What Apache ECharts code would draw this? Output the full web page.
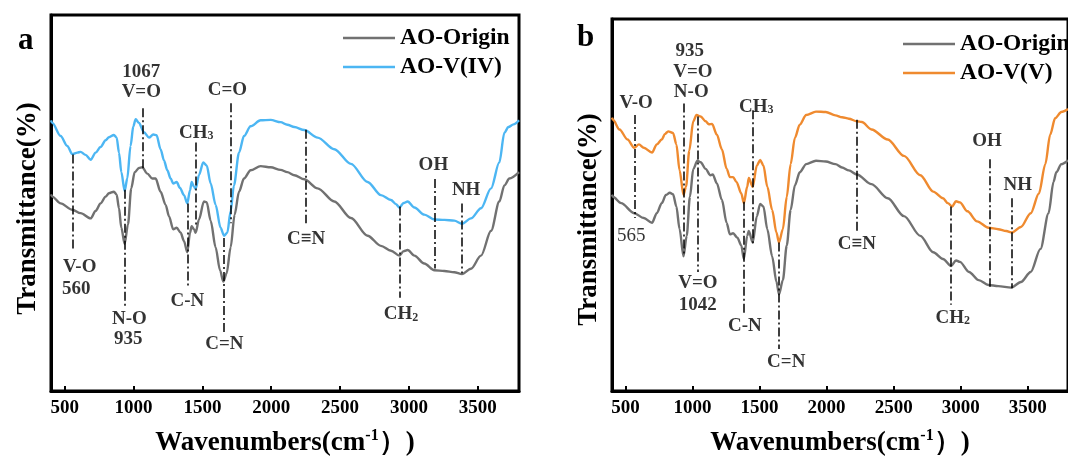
<!DOCTYPE html>
<html>
<head>
<meta charset="utf-8">
<script src="https://cdn.jsdelivr.net/npm/echarts@6/dist/echarts.min.js"></script>
<style>
  html, body { margin: 0; padding: 0; background: #fff; }
  #chart { width: 1068px; height: 464px; }
</style>
</head>
<body>
<div id="chart"></div>
<script>
// FTIR spectra: wavenumber (cm-1) vs transmittance (arbitrary %, offset curves)
const xTicks = [500, 1000, 1500, 2000, 2500, 3000, 3500];

// Panel a
const originA = [[400,52.3],[409,51.7],[470,49.9],[555,48.2],[615,47.3],[688,45.9],[724,47.9],[760,49.9],[797,51.7],[821,52.6],[857,53.0],[877,52.2],[894,48.6],[911,43.4],[935,39.1],[959,44.3],[983,53.9],[1008,58.2],[1039,59.3],[1063,59.5],[1100,57.8],[1136,56.5],[1160,56.5],[1196,53.0],[1233,49.5],[1257,46.5],[1288,43.0],[1313,43.4],[1342,42.1],[1366,39.9],[1390,36.9],[1410,42.1],[1422,43.8],[1439,43.0],[1451,42.1],[1475,45.6],[1511,50.4],[1531,50.2],[1560,45.3],[1596,38.2],[1628,32.1],[1652,29.1],[1676,31.3],[1705,38.2],[1734,46.9],[1766,53.0],[1802,56.5],[1850,58.7],[1923,59.8],[1996,59.5],[2068,58.8],[2117,58.2],[2168,57.4],[2240,56.3],[2337,53.9],[2458,50.4],[2579,46.0],[2700,41.3],[2797,38.6],[2870,37.3],[2931,36.0],[2962,37.2],[2991,37.5],[3040,36.0],[3112,33.9],[3185,32.1],[3258,31.9],[3330,31.6],[3386,31.1],[3451,32.5],[3524,36.0],[3597,42.6],[3657,50.4],[3694,54.7],[3730,56.5],[3800,58.2]];
const vanadiumIV = [[400,72.0],[409,71.3],[470,67.8],[518,65.2],[555,63.0],[591,63.4],[615,63.6],[651,62.8],[688,61.5],[724,63.4],[760,64.9],[797,66.7],[821,67.5],[857,68.1],[877,67.4],[894,63.4],[911,58.2],[935,53.2],[954,56.5],[978,65.2],[998,70.4],[1015,72.3],[1039,71.3],[1075,68.8],[1112,67.4],[1143,68.2],[1167,68.0],[1196,64.3],[1221,61.3],[1245,58.7],[1269,56.5],[1288,55.2],[1313,55.6],[1337,54.0],[1366,52.1],[1390,49.9],[1410,53.4],[1422,55.6],[1439,54.3],[1451,53.8],[1475,57.4],[1506,60.8],[1531,60.0],[1560,55.2],[1596,49.5],[1632,43.4],[1657,41.3],[1681,42.1],[1705,47.8],[1729,54.7],[1766,63.4],[1802,67.8],[1850,70.4],[1923,72.0],[1996,72.1],[2068,71.5],[2117,70.8],[2168,70.2],[2240,69.4],[2337,67.4],[2458,64.3],[2579,60.4],[2700,55.6],[2797,52.1],[2870,50.8],[2906,49.7],[2931,48.8],[2962,50.0],[2991,50.4],[3040,48.8],[3112,46.9],[3185,45.6],[3258,45.5],[3330,45.3],[3386,44.5],[3451,45.9],[3524,48.6],[3597,53.9],[3657,60.8],[3694,68.7],[3723,70.2],[3760,70.9],[3800,72.0]];
// peak guides: [wavenumber, upper T, lower T]
const peakLinesA = [[560,62.9,37.3],[935,53.5,22.2],[1067,75.2,59.1],[1449,66.1,43.9],[1390,49.9,27.4],[1708,76.5,44.6],[1654,40.7,15.1],[2248,69.5,44.6],[2931,49.1,24.8],[3185,56.4,32.6],[3387,49.9,31.3]];
// peak labels: [wavenumber, T, text]
const peakTextA = [[609,32.9,'V-O'],[584,27.2,'560'],[970,19.1,'N-O'],[962,13.8,'935'],[1056,84.9,'1067'],[1056,79.6,'V=O'],[1456,68.7,'CH3'],[1391,23.8,'C-N'],[1681,79.9,'C=O'],[1659,12.5,'C=N'],[2253,40.5,'C≡N'],[2943,20.4,'CH2'],[3178,60.1,'OH'],[3416,53.5,'NH']];

// Panel b
const originB = [[400,52.8],[407,52.2],[468,50.5],[565,47.8],[637,46.5],[698,45.2],[734,47.8],[771,50.5],[802,52.7],[831,53.3],[855,52.9],[880,49.6],[904,43.5],[933,36.2],[957,41.7],[981,52.2],[1006,59.7],[1037,61.9],[1061,61.5],[1098,59.7],[1134,58.0],[1151,58.2],[1182,55.8],[1219,51.4],[1255,45.2],[1279,42.1],[1303,42.4],[1335,41.2],[1364,39.1],[1383,35.5],[1408,41.7],[1420,43.0],[1449,39.9],[1480,47.0],[1505,50.3],[1529,49.6],[1558,43.5],[1594,36.2],[1626,29.4],[1645,26.0],[1674,29.8],[1703,39.1],[1732,48.7],[1764,55.3],[1800,58.8],[1848,61.0],[1921,61.9],[1994,61.7],[2066,61.0],[2115,60.1],[2166,59.3],[2226,58.2],[2335,55.6],[2456,51.8],[2577,47.0],[2699,41.7],[2795,37.3],[2868,35.5],[2929,33.6],[2965,35.1],[2994,34.7],[3062,32.0],[3134,29.8],[3207,28.5],[3280,28.2],[3377,27.8],[3449,29.3],[3522,32.0],[3595,38.2],[3655,47.8],[3692,56.2],[3713,58.8],[3750,61.0],[3800,62.0]];
const vanadiumV = [[400,73.5],[407,72.9],[456,70.3],[516,67.6],[565,65.4],[601,66.3],[637,65.4],[698,64.1],[734,66.3],[771,67.6],[795,69.1],[819,69.8],[855,69.4],[880,66.3],[904,59.3],[933,52.7],[952,54.9],[976,64.6],[1006,72.5],[1030,74.2],[1061,73.8],[1098,72.5],[1122,71.7],[1146,71.8],[1182,68.9],[1219,65.0],[1255,59.7],[1279,57.5],[1303,57.5],[1328,56.2],[1364,53.1],[1383,50.5],[1408,54.9],[1420,57.3],[1449,54.9],[1480,60.6],[1505,62.1],[1529,60.6],[1558,54.9],[1594,48.7],[1626,42.6],[1645,39.9],[1674,43.5],[1703,52.2],[1732,61.0],[1764,68.1],[1800,71.6],[1848,74.2],[1921,75.1],[1994,75.0],[2066,74.1],[2115,73.6],[2166,73.2],[2226,72.5],[2263,72.3],[2335,70.3],[2456,67.6],[2577,63.2],[2699,58.0],[2795,53.6],[2868,51.8],[2904,50.5],[2936,49.6],[2965,51.0],[2994,50.7],[3050,48.3],[3122,45.6],[3207,43.9],[3280,43.5],[3340,43.0],[3384,42.6],[3449,44.1],[3522,47.8],[3583,53.1],[3631,61.0],[3667,68.9],[3704,73.3],[3750,75.0],[3800,75.8]];
const peakLinesB = [[567,74.2,46.5],[938,77.3,36.4],[1040,73.8,32.0],[1446,75.5,39.5],[1386,50.9,20.6],[1645,39.9,11.3],[2226,72.9,43.0],[2929,49.6,23.2],[3214,62.3,28.0],[3384,51.8,27.6]];
const peakTextB = [[580,77.3,'V-O'],[543,41.7,'565'],[979,91.4,'935'],[1003,85.7,'V=O'],[991,80.4,'N-O'],[1040,29.0,'V=O'],[1040,23.2,'1042'],[1475,76.4,'CH3'],[1391,17.5,'C-N'],[1699,7.8,'C=N'],[2226,39.5,'C≡N'],[2941,19.7,'CH2'],[3196,67.2,'OH'],[3425,55.3,'NH']];

const seriesNames = ['AO-Origin', 'AO-V(IV)', 'AO-V(V)'];

// ---- styling ----
const FONT = '"Liberation Serif", "Times New Roman", serif';
const GRAY = '#717171', BLUE = '#4cb6f3', ORANGE = '#ef8a2f';
const regularWeightLabels = new Set(['565']);

function xAxisFor(gi) {
  return {
    type: 'value', gridIndex: gi, min: 400, max: 3800,
    axisLine: { show: true, onZero: false, lineStyle: { color: '#000', width: 3 } },
    splitLine: { show: false },
    axisTick: { show: true, inside: true, length: 5, customValues: xTicks, lineStyle: { color: '#000', width: 2 } },
    axisLabel: {
      show: true, customValues: xTicks, margin: 8, color: '#000', fontFamily: FONT, fontWeight: 'bold', fontSize: 19,
      formatter: v => String(v)
    },
    name: 'Wavenumbers(cm{sup|-1}）)',
    nameLocation: 'middle', nameGap: 37,
    nameTextStyle: {
      color: '#000', fontFamily: FONT, fontWeight: 'bold', fontSize: 27, lineHeight: 31,
      rich: { sup: { fontSize: 16, fontFamily: FONT, fontWeight: 'bold', color: '#000', verticalAlign: 'top', lineHeight: 17 } }
    }
  };
}
function yAxisFor(gi, shift) {
  return {
    type: 'value', gridIndex: gi, min: 0, max: 100,
    axisLine: { show: true, lineStyle: { color: '#000', width: 3 } },
    axisTick: { show: false }, axisLabel: { show: false }, splitLine: { show: false },
    name: 'Transmittance(%)', nameLocation: 'middle', nameRotate: 90, nameGap: 9,
    nameTextStyle: { color: '#000', fontFamily: FONT, fontWeight: 'bold', fontSize: 27, padding: [0, shift, 0, 0] }
  };
}
function spectrum(name, data, color, gi, z) {
  return {
    type: 'line', name, data, xAxisIndex: gi, yAxisIndex: gi,
    symbol: 'none', smooth: 0.3, smoothMonotone: 'x', z,
    lineStyle: { color, width: 2.4 }, itemStyle: { color },
    emphasis: { disabled: true }, silent: true
  };
}
function guides(lines) {
  return {
    silent: true, symbol: ['none', 'none'], label: { show: false }, emphasis: { disabled: true },
    lineStyle: { color: '#000', width: 1.5, type: [9, 3, 2, 3], opacity: 1 },
    data: lines.map(([w, t1, t2]) => [{ coord: [w, t1] }, { coord: [w, t2] }])
  };
}
function labelSeries(texts, gi) {
  return {
    type: 'scatter', xAxisIndex: gi, yAxisIndex: gi, symbolSize: 0, silent: true, z: 10,
    data: texts.map(([w, t, s]) => ({ name: s, value: [w, t] })),
    label: {
      show: true, position: 'inside', color: '#000', fontFamily: FONT, fontWeight: 'bold', fontSize: 19,
      formatter: p => regularWeightLabels.has(p.name) ? '{r|' + p.name + '}' : p.name.replace(/^CH(\d)$/, 'CH{s|$1}'),
      rich: {
        s: { fontSize: 12, fontFamily: FONT, fontWeight: 'bold', color: '#000', verticalAlign: 'bottom', lineHeight: 12 },
        r: { fontSize: 19, fontFamily: FONT, fontWeight: 'normal', color: '#000' }
      }
    },
    emphasis: { disabled: true }
  };
}
function legendAt(left, top, names) {
  return {
    orient: 'vertical', left, top, data: names, icon: 'rect', itemWidth: 52, itemHeight: 2.5, itemGap: 5, padding: 0,
    selectedMode: false,
    textStyle: { color: '#000', fontFamily: FONT, fontWeight: 'bold', fontSize: 23.5, lineHeight: 24 }
  };
}

const chart = echarts.init(document.getElementById('chart'), null, { renderer: 'canvas' });
const a = spectrum(seriesNames[1], vanadiumIV, BLUE, 0, 3);
a.markLine = guides(peakLinesA);
const b = spectrum(seriesNames[2], vanadiumV, ORANGE, 1, 3);
b.markLine = guides(peakLinesB);

chart.setOption({
  animation: false,
  backgroundColor: '#fff',
  title: [
    { text: 'a', left: 18, top: 25, padding: 0, textStyle: { color: '#000', fontFamily: FONT, fontWeight: 'bold', fontSize: 31 } },
    { text: 'b', left: 577, top: 22, padding: 0, textStyle: { color: '#000', fontFamily: FONT, fontWeight: 'bold', fontSize: 31 } }
  ],
  legend: [
    legendAt(343, 26, [seriesNames[0], seriesNames[1]]),
    legendAt(903, 32, [seriesNames[0], seriesNames[2]])
  ],
  grid: [
    { left: 51, top: 15, width: 468, height: 383, show: true, borderColor: '#000', borderWidth: 3, backgroundColor: 'transparent' },
    { left: 612, top: 19, width: 468, height: 379, show: true, borderColor: '#000', borderWidth: 3, backgroundColor: 'transparent' }
  ],
  xAxis: [xAxisFor(0), xAxisFor(1)],
  yAxis: [yAxisFor(0, 11), yAxisFor(1, 29)],
  series: [
    spectrum(seriesNames[0], originA, GRAY, 0, 2),
    a,
    labelSeries(peakTextA, 0),
    spectrum(seriesNames[0], originB, GRAY, 1, 2),
    b,
    labelSeries(peakTextB, 1)
  ]
});
</script>
</body>
</html>
